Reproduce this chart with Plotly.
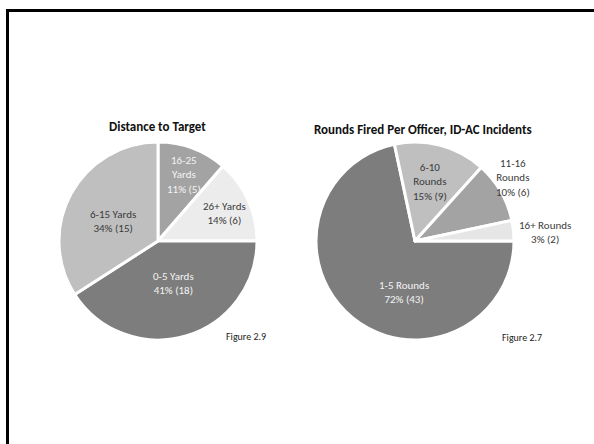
import plotly.graph_objects as go

# Distance to target (Figure 2.9)
dist_labels = ["16-25<br>Yards", "26+ Yards", "0-5 Yards", "6-15 Yards"]
dist_counts = [5, 6, 18, 15]
dist_colors = ["#a3a3a3", "#ececec", "#7d7d7d", "#bfbfbf"]
dist_text_colors = ["#f4f4f4", "#3a3a3a", "#f4f4f4", "#3a3a3a"]
# label anchor points, in pixels from the top-left of the page
dist_label_pos = [(184, 175), (224, 213), (173, 283), (113, 221)]

# Rounds fired per officer (Figure 2.7)
rounds_labels = ["1-5 Rounds", "6-10<br>Rounds", "11-16<br>Rounds", "16+ Rounds"]
rounds_counts = [43, 9, 6, 2]
rounds_colors = ["#7d7d7d", "#bfbfbf", "#a3a3a3", "#e6e6e6"]
rounds_text_colors = ["#f4f4f4", "#3a3a3a", "#3a3a3a", "#3a3a3a"]
rounds_label_pos = [(404, 292), (430, 182), (513, 178), (545, 232)]

FONT = "Carlito, Lato, 'Open Sans', sans-serif"
W, H = 594, 444


def px_x(v):
    return v / W


def px_y(v):
    return 1 - v / H


def slice_texts(labels, counts):
    total = sum(counts)
    return [f"{lab}<br>{round(100 * c / total)}% ({c})" for lab, c in zip(labels, counts)]


fig = go.Figure()

fig.add_trace(go.Pie(
    labels=[l.replace("<br>", " ") for l in dist_labels], values=dist_counts,
    textinfo="none", sort=False, direction="clockwise", rotation=0,
    marker=dict(colors=dist_colors, line=dict(color="white", width=3)),
    domain=dict(x=[px_x(59), px_x(257)], y=[px_y(340), px_y(142)]),
    showlegend=False, hoverinfo="label+value+percent",
))

fig.add_trace(go.Pie(
    labels=[l.replace("<br>", " ") for l in rounds_labels], values=rounds_counts,
    textinfo="none", sort=False, direction="clockwise", rotation=90,
    marker=dict(colors=rounds_colors, line=dict(color="white", width=3)),
    domain=dict(x=[px_x(316), px_x(514)], y=[px_y(340), px_y(142)]),
    showlegend=False, hoverinfo="label+value+percent",
))

annotations = []
for texts, pos, cols in [
    (slice_texts(dist_labels, dist_counts), dist_label_pos, dist_text_colors),
    (slice_texts(rounds_labels, rounds_counts), rounds_label_pos, rounds_text_colors),
]:
    for t, (x, y), c in zip(texts, pos, cols):
        annotations.append(dict(text=t, x=px_x(x), y=px_y(y), font=dict(size=11, color=c)))

annotations += [
    dict(text="<b>Distance to Target</b>", x=px_x(157), y=px_y(126), font=dict(size=13, color="#111111")),
    dict(text="<b>Rounds Fired Per Officer, ID-AC Incidents</b>", x=px_x(423), y=px_y(129), font=dict(size=13, color="#111111")),
    dict(text="Figure 2.9", x=px_x(246), y=px_y(336), font=dict(size=10, color="#222222")),
    dict(text="Figure 2.7", x=px_x(522), y=px_y(337), font=dict(size=10, color="#222222")),
]
for a in annotations:
    a.update(xref="paper", yref="paper", showarrow=False, xanchor="center", yanchor="middle")
    a["font"]["family"] = FONT

fig.update_layout(
    width=W, height=H,
    margin=dict(l=0, r=0, t=0, b=0),
    paper_bgcolor="white", plot_bgcolor="white",
    annotations=annotations,
    shapes=[dict(type="rect", xref="paper", yref="paper",
                 x0=px_x(7.5), x1=1.02, y0=-0.02, y1=px_y(10.5),
                 line=dict(color="black", width=3))],
)

fig.write_html("out.html")
